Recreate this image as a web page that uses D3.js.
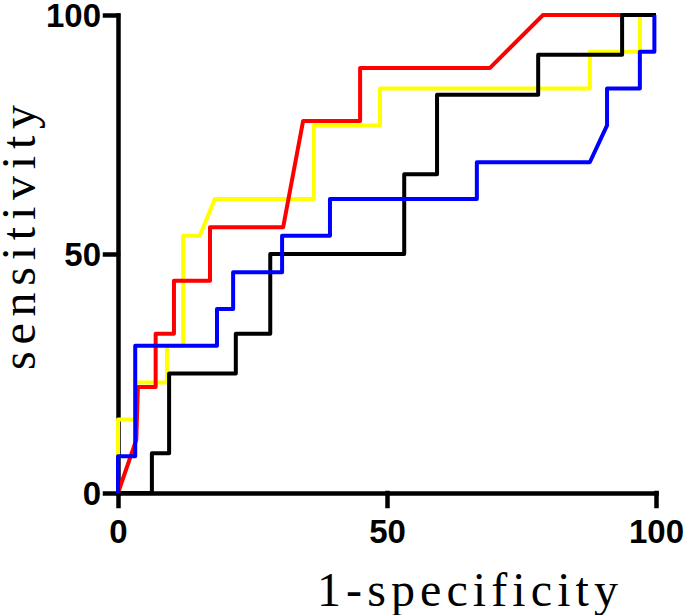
<html>
<head>
<script src="https://d3js.org/d3.v7.min.js"></script>
<style>
body { margin: 0; background: white; }
.tick text { font-family: "Liberation Sans", Arial, sans-serif; font-weight: bold; font-size: 33px; fill: black; }
.title { font-family: "Liberation Serif", "Times New Roman", serif; fill: black; }
</style>
</head>
<body>
<svg width="685" height="615"></svg>
<script>
// ROC curves: 1-specificity (x) and sensitivity (y), in %
var yellowX = [0, 0, 3.2, 3.2, 9.1, 9.1, 12.1, 12.1, 15.2, 18.0, 36.4, 36.4, 48.7, 48.7, 87.7, 87.7, 97.0, 97.0];
var yellowY = [0, 15.4, 15.4, 23.1, 23.1, 30.8, 30.8, 53.8, 53.8, 61.5, 61.5, 76.9, 76.9, 84.6, 84.6, 92.3, 92.3, 100];

var redX = [0, 3.4, 3.7, 7.0, 7.0, 10.4, 10.4, 17.1, 17.1, 30.7, 34.4, 45.0, 45.0, 69.1, 79.0, 100];
var redY = [0, 11.1, 22.2, 22.2, 33.3, 33.3, 44.4, 44.4, 55.6, 55.6, 77.8, 77.8, 88.9, 88.9, 100, 100];

var blackX = [0, 6.3, 6.3, 9.5, 9.5, 21.9, 21.9, 28.3, 28.3, 53.2, 53.2, 59.3, 59.3, 78.1, 78.1, 93.7, 93.7, 100];
var blackY = [0, 0, 8.3, 8.3, 25.0, 25.0, 33.3, 33.3, 50.0, 50.0, 66.7, 66.7, 83.3, 83.3, 91.7, 91.7, 100, 100];

var blueX = [0, 0, 3.2, 3.2, 18.4, 18.4, 21.4, 21.4, 30.5, 30.5, 39.4, 39.4, 66.7, 66.7, 87.7, 90.9, 90.9, 97.0, 97.0, 99.7, 99.7];
var blueY = [0, 7.7, 7.7, 30.8, 30.8, 38.5, 38.5, 46.2, 46.2, 53.8, 53.8, 61.5, 61.5, 69.2, 69.2, 76.9, 84.6, 84.6, 92.3, 92.3, 100];

var tickVals = [0, 50, 100];
var series = [
  {x: yellowX, y: yellowY, color: "#ffff00"},
  {x: redX, y: redY, color: "#ff0000"},
  {x: blackX, y: blackY, color: "#000000"},
  {x: blueX, y: blueY, color: "#0000ff"}
];

var svg = d3.select("svg");
var xs = d3.scaleLinear().domain([0, 100]).range([118, 656]);
var ys = d3.scaleLinear().domain([0, 100]).range([493, 15]);

var line = d3.line().x(function(d) { return xs(d[0]); }).y(function(d) { return ys(d[1]); });

// axes
var xAxis = d3.axisBottom(xs).tickValues(tickVals).tickSize(13).tickSizeOuter(0).tickFormat(d3.format("d"));
var gx = svg.append("g").attr("transform", "translate(0," + ys(0) + ")").call(xAxis);
gx.selectAll("text").attr("y", 50).attr("dy", 0);

var yAxis = d3.axisLeft(ys).tickValues(tickVals).tickSize(13).tickSizeOuter(0).tickFormat(d3.format("d"));
var gy = svg.append("g").attr("transform", "translate(" + xs(0) + ",0)").call(yAxis);
gy.selectAll("text").attr("x", -17).attr("dy", "0.36em");

svg.selectAll(".domain, .tick line").attr("stroke", "black").attr("stroke-width", 4.5).attr("stroke-linecap", "square");

// curves
svg.selectAll("path.roc").data(series).enter().append("path")
  .attr("class", "roc")
  .attr("d", function(s) { return line(d3.zip(s.x, s.y)); })
  .attr("fill", "none")
  .attr("stroke", function(s) { return s.color; })
  .attr("stroke-width", 4)
  .attr("stroke-linejoin", "round");

// titles
svg.append("text").attr("class", "title")
  .attr("x", 317).attr("y", 606)
  .attr("textLength", 301).attr("lengthAdjust", "spacing")
  .style("font-size", "48px")
  .text("1-specificity");
svg.append("text").attr("class", "title")
  .attr("transform", "translate(35,370) rotate(-90)")
  .attr("textLength", 265).attr("lengthAdjust", "spacing")
  .style("font-size", "48px")
  .text("sensitivity");
</script>
</body>
</html>
